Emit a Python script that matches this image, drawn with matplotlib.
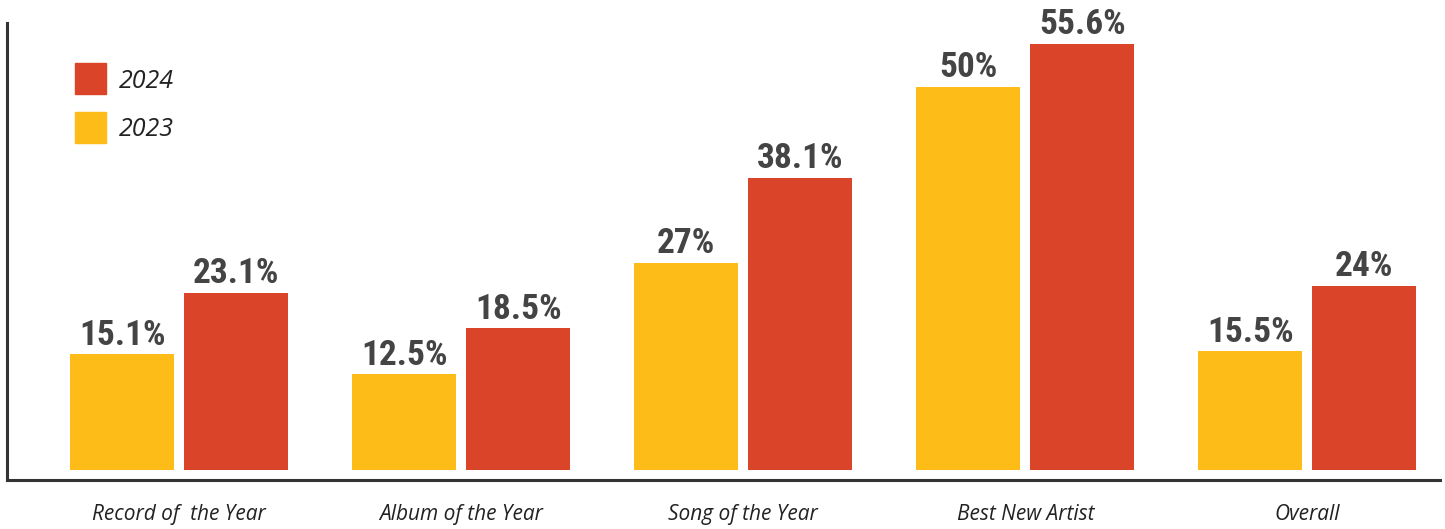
import matplotlib.pyplot as plt
from matplotlib.patches import Rectangle
import numpy as np

# Share of women nominees per category
categories = ["Record of  the Year", "Album of the Year", "Song of the Year",
              "Best New Artist", "Overall"]
share_2023 = [15.1, 12.5, 27, 50, 15.5]
share_2024 = [23.1, 18.5, 38.1, 55.6, 24]
labels_2023 = ["15.1%", "12.5%", "27%", "50%", "15.5%"]
labels_2024 = ["23.1%", "18.5%", "38.1%", "55.6%", "24%"]
legend_years = ["2024", "2023"]

yellow = "#FDBC18"
red = "#DA4428"
text_dark = "#444444"

W, H = 1445, 529
fig = plt.figure(figsize=(W / 100, H / 100), dpi=100)
ax = fig.add_axes([7 / W, 49 / H, 1433 / W, 457 / H])

x = np.arange(len(categories))
w = 0.369
off = 0.202
bars_23 = ax.bar(x - off, share_2023, w, color=yellow)
bars_24 = ax.bar(x + off, share_2024, w, color=red)

label_font = dict(family="Roboto Condensed", weight="bold", size=25.5,
                  color=text_dark)
for bars, labels in ((bars_23, labels_2023), (bars_24, labels_2024)):
    for b, lab in zip(bars, labels):
        ax.annotate(lab, (b.get_x() + b.get_width() / 2, b.get_height()),
                    xytext=(0, 7), textcoords="offset points",
                    ha="center", va="baseline", **label_font)

ax.set_xlim(-0.61, 4.47)
ax.set_ylim(-1.3, 58.34)
ax.set_xticks(x)
ax.set_xticklabels(categories, family="Open Sans", style="italic",
                   size=15, color="#222222")
ax.tick_params(axis="x", length=0, pad=17)
ax.set_yticks([])

for side in ("top", "right"):
    ax.spines[side].set_visible(False)
for side in ("left", "bottom"):
    ax.spines[side].set_linewidth(2.2)
    ax.spines[side].set_color("#333333")

# legend: coloured squares with italic year labels, laid out in pixels
for i, (year, col) in enumerate(zip(legend_years, [red, yellow])):
    top = 63 + i * 49
    fig.patches.append(Rectangle((75 / W, 1 - (top + 31) / H), 31 / W, 31 / H,
                                 transform=fig.transFigure, color=col))
    fig.text(119 / W, 1 - (top + 18) / H, year, family="Open Sans",
             style="italic", size=18, color="#222222", va="center", ha="left")

fig.savefig("out.png", dpi=100)
